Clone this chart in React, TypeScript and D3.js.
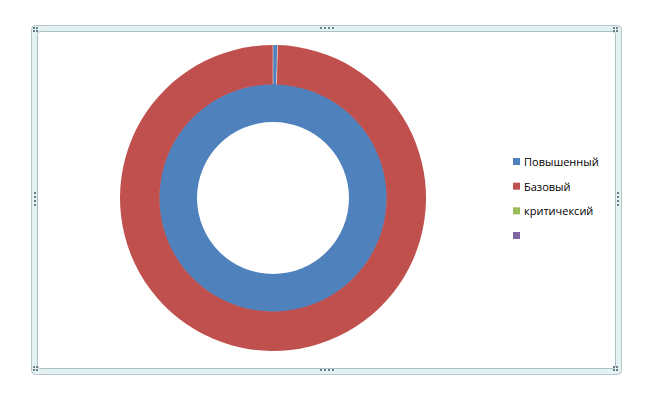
import React from 'react';
import * as d3 from 'd3';

// legend categories and series
const categories = ['Повышенный', 'Базовый', 'критичексий', ''];
const colors = ['#4F81BD', '#C0504D', '#9BBB59', '#8064A2'];
const innerSeries = [100, 0, 0, 0];
const outerSeries = [1, 208, 0, 0];

const W = 658;
const H = 396;

function Dots({x, y, vertical}: {x: number; y: number; vertical?: boolean}) {
    return <g fill="#6d7f86">
        {[0, 1, 2, 3].map(i => (
            <rect key={i}
                  x={vertical ? x : x + i * 4}
                  y={vertical ? y + i * 4 : y}
                  width={2} height={2}/>
        ))}
    </g>;
}

function Corner({x, y}: {x: number; y: number}) {
    return <g fill="#6d7f86">
        <rect x={x} y={y} width={2} height={2}/>
        <rect x={x + 3} y={y} width={2} height={2}/>
        <rect x={x} y={y + 3} width={2} height={2}/>
        <rect x={x + 3} y={y + 3} width={2} height={2}/>
    </g>;
}

export default function App() {
    const cx = 273;
    const cy = 198;
    const r0 = 76, r1 = 114, r2 = 153;

    const pie = d3.pie<number>().sort(null).value(d => d);
    const innerArc = d3.arc<d3.PieArcDatum<number>>().innerRadius(r0).outerRadius(r1);
    const outerArc = d3.arc<d3.PieArcDatum<number>>().innerRadius(r1 - 0.5).outerRadius(r2);

    const inner = pie(innerSeries);
    const outer = pie(outerSeries);

    // slice boundaries of the outer ring
    const edges = outer.filter(d => d.value > 0).map(d => d.startAngle);

    const legendY = d3.scalePoint<number>()
        .domain(d3.range(categories.length))
        .range([162, 236]);

    return <div style={{position: 'absolute', left: 0, top: 0}}>
        <svg width={W} height={H} style={{display: 'block'}}>
            <rect width={W} height={H} fill="#fff"/>
            {/* selection frame */}
            <rect x={31.5} y={25.5} width={590} height={349} rx={4} fill="#e3f3f4" stroke="#b7c6c9"/>
            <rect x={37.5} y={31.5} width={578} height={337} rx={3} fill="#fff" stroke="#aebdc1"/>
            <Corner x={33} y={27}/>
            <Corner x={613} y={27}/>
            <Corner x={33} y={366}/>
            <Corner x={613} y={366}/>
            <Dots x={320} y={27}/>
            <Dots x={320} y={369}/>
            <Dots x={34} y={192} vertical/>
            <Dots x={617} y={192} vertical/>

            <g transform={`translate(${cx},${cy})`}>
                {inner.filter(d => d.value > 0).map((d, i) => (
                    <path key={'i' + i} d={innerArc(d) || ''} fill={colors[d.index]}/>
                ))}
                {outer.filter(d => d.value > 0).map((d, i) => (
                    <path key={'o' + i} d={outerArc(d) || ''} fill={colors[d.index]}/>
                ))}
                {edges.map((a, i) => (
                    <line key={'e' + i}
                          x1={Math.sin(a) * r1} y1={-Math.cos(a) * r1}
                          x2={Math.sin(a) * r2} y2={-Math.cos(a) * r2}
                          stroke="#fff" strokeOpacity={0.6} strokeWidth={0.8}/>
                ))}
            </g>

            <g style={{fontFamily: '"Open Sans", "DejaVu Sans", sans-serif', fontSize: 11}}>
                {categories.map((c, i) => (
                    <g key={i} transform={`translate(513,${legendY(i)})`}>
                        <rect x={0} y={-4} width={7} height={7} fill={colors[i]}/>
                        <text x={11} y={0} dy="0.35em" fill="#000">{c}</text>
                    </g>
                ))}
            </g>
        </svg>
    </div>;
}
